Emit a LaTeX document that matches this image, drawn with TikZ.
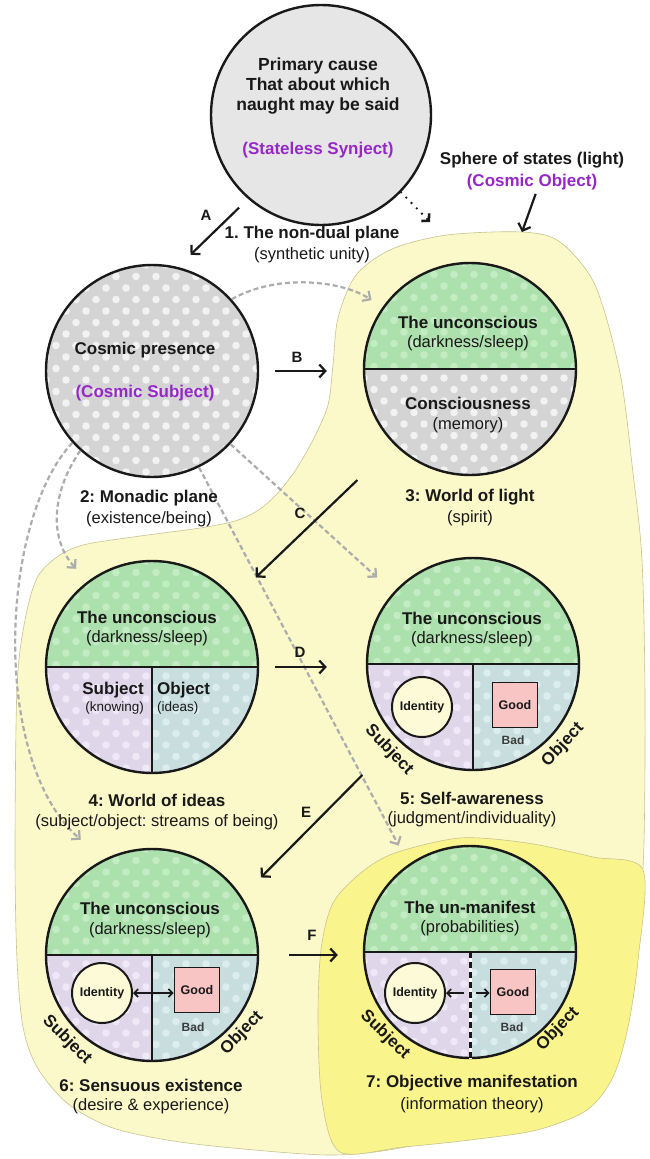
\documentclass[tikz,border=0pt]{standalone}
\usepackage{fontspec}
\setmainfont{Liberation Sans}
\usetikzlibrary{arrows.meta}
\definecolor{paleY}{RGB}{251,248,202}
\definecolor{paleYedge}{RGB}{200,196,140}
\definecolor{brightY}{RGB}{250,244,140}
\definecolor{topGray}{RGB}{230,230,230}
\definecolor{gBase}{RGB}{212,212,212}
\definecolor{gDot}{RGB}{242,242,242}
\definecolor{grBase}{RGB}{172,224,172}
\definecolor{grDot}{RGB}{196,236,196}
\definecolor{lvBase}{RGB}{224,214,234}
\definecolor{lvDot}{RGB}{239,232,247}
\definecolor{blBase}{RGB}{200,222,222}
\definecolor{blDot}{RGB}{220,237,237}
\definecolor{pinkF}{RGB}{248,196,196}
\definecolor{idF}{RGB}{253,250,216}
\definecolor{purp}{RGB}{150,40,200}
\definecolor{dgray}{RGB}{172,172,172}
\definecolor{ink}{RGB}{25,25,25}

\newcommand\dotregion[6]{%
  \begin{scope}
    \clip (#1,#2) circle[radius=#3pt];
    \clip #4;
    \fill[#5] ({#1-#3},{#2-#3}) rectangle ({#1+#3},{#2+#3});
    \foreach \j in {0,...,19}{\foreach \i in {0,...,11}{
      \fill[#6] ({#1-#3+\i*20+mod(\j,2)*10},{#2-#3+\j*11.5}) circle[radius=3.8pt];}}
  \end{scope}}

\tikzset{
 bigc/.style={circle, draw=ink, line width=2.4pt, inner sep=0pt, minimum size=212pt},
 divl/.style={draw=ink, line width=2.4pt},
 tb/.style={font=\fontsize{17}{20.5}\selectfont\bfseries\frenchspacing, text=ink, align=center, inner sep=0pt},
 tr/.style={font=\fontsize{16.5}{20.5}\selectfont\frenchspacing, text=ink, align=center, inner sep=0pt},
 tp/.style={tb, text=purp},
 lettr/.style={font=\fontsize{15}{18}\selectfont\bfseries, text=ink, inner sep=0pt},
 smalltxt/.style={font=\fontsize{13.5}{16}\selectfont, text=ink, inner sep=0pt},
 idc/.style={circle, draw=ink, fill=idF, line width=2pt, minimum size=60pt, inner sep=0pt, font=\fontsize{12.5}{14}\selectfont\bfseries, text=ink},
 goodbox/.style={rectangle, draw=ink, fill=pinkF, line width=1.8pt, minimum width=45pt, minimum height=45pt, inner sep=0pt, font=\fontsize{12.5}{14}\selectfont\bfseries, text=ink},
 badl/.style={font=\fontsize{12}{14}\selectfont\bfseries, text=ink!85, inner sep=0pt},
 arr/.style={draw=ink, line width=2.2pt, -{Straight Barb[length=6pt,width=13pt]}},
 garr/.style={draw=dgray, line width=2.2pt, dash pattern=on 5pt off 3pt, -{Straight Barb[length=6pt,width=12pt]}},
 dbl/.style={draw=ink, line width=1.6pt, {Straight Barb[length=4pt,width=8pt]}-{Straight Barb[length=4pt,width=8pt]}},
 sarr/.style={draw=ink, line width=1.6pt, -{Straight Barb[length=4pt,width=8pt]}},
 dotarr/.style={draw=ink, line width=2.6pt, line cap=round, dash pattern=on 0pt off 7.5pt, -{Straight Barb[length=5pt,width=11pt,line cap=butt]}},
}

\begin{document}
\frenchspacing
\begin{tikzpicture}[x=1pt,y=-1pt]
\useasboundingbox (0,0) rectangle (649,1159);
\fill[white] (0,0) rectangle (649,1159);

% regions
\fill[paleY, draw=paleYedge, line width=0.6pt] plot[smooth cycle, tension=0.5] coordinates {
 (333,365) (338,318) (356,275) (392,249) (447,235) (522,232) (560,242) (595,285)
 (620,373) (633,473) (642,560) (645,700) (643,868) (630,960) (600,1060) (520,1120)
 (400,1148) (330,1155) (233,1148) (167,1140) (110,1127) (67,1103) (37,1067) (23,1027)
 (17,960) (15,853) (17,687) (25,620) (37,578) (57,557) (83,545) (133,537) (200,528)
 (235,521) (257,511) (276,495) (295,471) (313,440) (328,405)};
\fill[brightY, draw=paleYedge, line width=0.6pt] plot[smooth cycle, tension=0.5] coordinates {
 (333,903) (362,872) (395,853) (460,838) (527,843) (593,857) (643,870)
 (638,960) (628,1027) (613,1077) (587,1110) (537,1130) (470,1140) (403,1147)
 (340,1152) (322,1100) (318,1020) (321,950)};

% circle fills
\fill[topGray] (321,115) circle[radius=110pt];
\dotregion{152}{371}{106}{(40,260) rectangle (265,480)}{gBase}{gDot}
\dotregion{470}{369}{106}{(360,258) rectangle (580,369)}{grBase}{grDot}
\dotregion{470}{369}{106}{(360,369) rectangle (580,480)}{gBase}{gDot}
\dotregion{152}{667}{106}{(40,555) rectangle (265,667)}{grBase}{grDot}
\dotregion{152}{667}{106}{(40,667) rectangle (152,780)}{lvBase}{lvDot}
\dotregion{152}{667}{106}{(152,667) rectangle (265,780)}{blBase}{blDot}
\dotregion{473}{664}{106}{(360,550) rectangle (585,664)}{grBase}{grDot}
\dotregion{473}{664}{106}{(360,664) rectangle (473,775)}{lvBase}{lvDot}
\dotregion{473}{664}{106}{(473,664) rectangle (585,775)}{blBase}{blDot}
\dotregion{152}{955}{106}{(40,845) rectangle (265,955)}{grBase}{grDot}
\dotregion{152}{955}{106}{(40,955) rectangle (152,1065)}{lvBase}{lvDot}
\dotregion{152}{955}{106}{(152,955) rectangle (265,1065)}{blBase}{blDot}
\dotregion{470}{952}{106}{(360,840) rectangle (580,952)}{grBase}{grDot}
\dotregion{470}{952}{106}{(360,952) rectangle (470,1062)}{lvBase}{lvDot}
\dotregion{470}{952}{106}{(470,952) rectangle (580,1062)}{blBase}{blDot}

% circle nodes
\node[bigc, minimum size=220pt] (c1) at (321,115) {};
\node[bigc] (c2) at (152,371) {};
\node[bigc] (c3) at (470,369) {};
\node[bigc] (c4) at (152,667) {};
\node[bigc] (c5) at (473,664) {};
\node[bigc] (c6) at (152,955) {};
\node[bigc] (c7) at (470,952) {};

% dividers
\draw[divl] (c3.west) -- (c3.east);
\draw[divl] (c4.west) -- (c4.east);
\draw[divl] (c4.center) -- (c4.south);
\draw[divl] (c5.west) -- (c5.east);
\draw[divl] (c5.center) -- (c5.south);
\draw[divl] (c6.west) -- (c6.east);
\draw[divl] (c6.center) -- (c6.south);
\draw[divl] (c7.west) -- (c7.east);
\draw[white, line width=3pt] (c7.center) -- (c7.south);
\draw[ink, line width=3pt, dash pattern=on 6pt off 4pt] (c7.center) -- (c7.south);

% gray dashed connectors
\draw[garr, shorten >=13pt] (c2.42) .. controls (280,272) and (345,282) .. (c3.145);
\draw[garr, shorten >=17pt] (c2.228) .. controls (50,495) and (50,540) .. (c4.127);
\draw[garr, shorten >=30pt] (c2.222) .. controls (0,520) and (-10,760) .. (c6.117);
\draw[garr, shorten >=22pt] (c2.317) -- (c5.138);
\draw[garr, shorten >=21pt] (c2.296) -- (c7.125);

% texts: top
\node[tb, font=\fontsize{17.5}{20}\selectfont\bfseries] (t1) at (318,86) {Primary cause\\That about which\\naught may be said};
\node[tp] (t1p) at (318,150) {(Stateless Synject)};
\node[tb] (sos) at (532,160) {Sphere of states (light)};
\node[tp] (co) at (532,182) {(Cosmic Object)};
\node[tb] (l1) at (312,234) {1. The non-dual plane};
\node[tr] (l1b) at (312,255) {(synthetic unity)};

% circle 2
\node[tb] (t2) at (145,350) {Cosmic presence};
\node[tp] (t2p) at (145,393) {(Cosmic Subject)};
\node[tb] (l2) at (149,498) {2: Monadic plane};
\node[tr] (l2b) at (149,519) {(existence/being)};

% circle 3
\node[tb] (t3a) at (468,322) {The unconscious};
\node[tr] (t3b) at (468,343) {(darkness/sleep)};
\node[tb] (t3c) at (468,403) {Consciousness};
\node[tr] (t3d) at (468,425) {(memory)};
\node[tb] (l3) at (470,497) {3: World of light};
\node[tr] (l3b) at (470,518) {(spirit)};

% circle 4
\node[tb] (t4a) at (147,617) {The unconscious};
\node[tr] (t4b) at (147,638) {(darkness/sleep)};
\node[tb, anchor=east] (t4s) at (144,690) {Subject};
\node[smalltxt, anchor=east] (t4k) at (144,708) {(knowing)};
\node[tb, anchor=west] (t4o) at (157,690) {Object};
\node[smalltxt, anchor=west] (t4i) at (157,708) {(ideas)};
\node[tb] (l4) at (157,800) {4: World of ideas};
\node[tr] (l4b) at (157,822) {(subject/object: streams of being)};

% circle 5
\node[tb] (t5a) at (472,618) {The unconscious};
\node[tr] (t5b) at (472,639) {(darkness/sleep)};
\node[idc] (id5) at (422,707) {Identity};
\node[goodbox] (g5) at (515,705) {Good};
\node[badl] (b5) at (513,740) {Bad};
\node[tb, rotate=-46] (s5) at (389,750) {Subject};
\node[tb, rotate=47] (o5) at (563,745) {Object};
\node[tb] (l5) at (472,798) {5: Self-awareness};
\node[tr] (l5b) at (472,819) {(judgment/individuality)};

% circle 6
\node[tb] (t6a) at (150,908) {The unconscious};
\node[tr] (t6b) at (150,930) {(darkness/sleep)};
\node[idc] (id6) at (102,993) {Identity};
\node[goodbox] (g6) at (197,990) {Good};
\node[badl] (b6) at (193,1027) {Bad};
\draw[dbl] (id6.east) -- (id6.east -| g6.west);
\node[tb, rotate=-45] (s6) at (67,1040) {Subject};
\node[tb, rotate=46] (o6) at (242,1033) {Object};
\node[tb] (l6) at (151,1085) {6: Sensuous existence};
\node[tr] (l6b) at (151,1106) {(desire \& experience)};

% circle 7
\node[tb] (t7a) at (470,907) {The un-manifest};
\node[tr] (t7b) at (470,928) {(probabilities)};
\node[idc] (id7) at (415,993) {Identity};
\node[goodbox] (g7) at (513,992) {Good};
\node[badl] (b7) at (512,1027) {Bad};
\coordinate (m7) at (id7.east -| c7.center);
\draw[sarr] ([xshift=-6pt]m7) -- (id7.east);
\draw[sarr] ([xshift=6pt]m7) -- (m7 -| g7.west);
\node[tb, rotate=-44] (s7) at (385,1035) {Subject};
\node[tb, rotate=46] (o7) at (558,1029) {Object};
\node[tb] (l7) at (472,1083) {7: Objective manifestation};
\node[tr] (l7b) at (472,1105) {(information theory)};

% black arrows
\draw[arr, shorten <=12.6pt, shorten >=17.6pt] (c1.229) -- (c2.76);
\node[lettr] (la) at (206,215) {A};
\draw[arr, shorten <=16pt, shorten >=36pt] (c2.east) -- (c2.east -| c3.west);
\node[lettr] (lb) at (297,357) {B};
\draw[arr, shorten <=51pt, shorten >=30pt] (c3.225) -- (c4.40);
\node[lettr] (lc) at (300,513) {C};
\draw[arr, shorten <=16pt, shorten >=39pt] (c4.east) -- (c4.east -| c5.west);
\node[lettr] (ld) at (300,652) {D};
\draw[arr, shorten <=49.5pt, shorten >=27pt] (c5.225) -- (c6.33);
\node[lettr] (le) at (306,812) {E};
\draw[arr, shorten <=30pt, shorten >=25pt] (c6.east) -- (c6.east -| c7.west);
\node[lettr] (lf) at (312,935) {F};

\coordinate (sph) at (522,232);
\draw[arr, shorten <=4pt] ([xshift=5pt]co.south) -- (sph);
\coordinate (dottip) at (430,222);
\draw[dotarr] (c1.316) -- (dottip);
\end{tikzpicture}
\end{document}
